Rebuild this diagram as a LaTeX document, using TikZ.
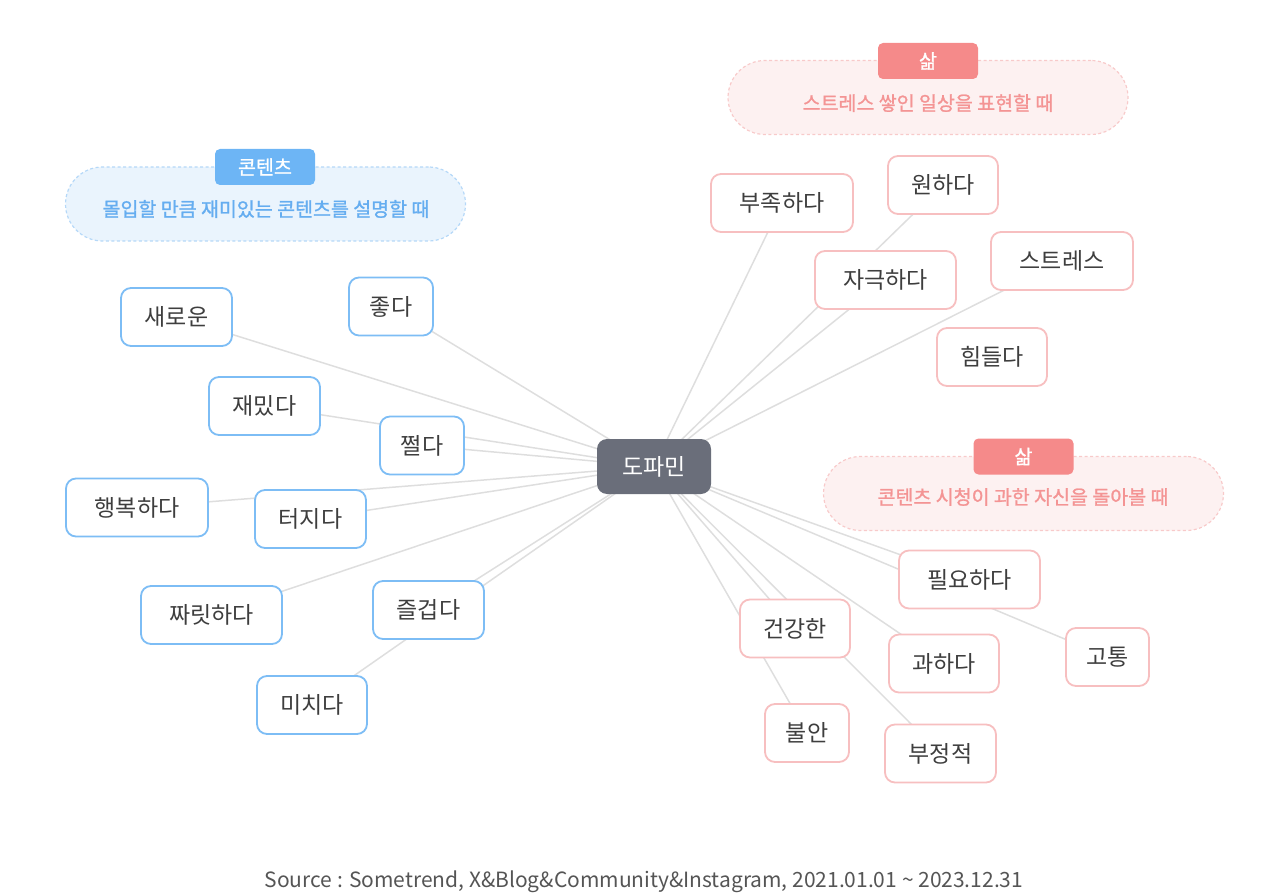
\documentclass[tikz,border=0pt]{standalone}
\usepackage{fontspec}
\setmainfont{Noto Sans CJK KR}
\newfontfamily\semifont{Noto Sans CJK KR}[FakeBold=1.2]
\usetikzlibrary{backgrounds}
\definecolor{bluebd}{HTML}{7DBDF5}
\definecolor{redbd}{HTML}{F7BFC0}
\definecolor{linec}{HTML}{DEDEDE}
\definecolor{centerc}{HTML}{6A6E7A}
\definecolor{txt}{HTML}{3E3E3E}
\definecolor{bluetag}{HTML}{6DB5F5}
\definecolor{bluefill}{HTML}{EAF4FD}
\definecolor{bluecap}{HTML}{65ADF0}
\definecolor{bluedash}{HTML}{B5D8F8}
\definecolor{redtag}{HTML}{F58A8A}
\definecolor{redfill}{HTML}{FDF1F1}
\definecolor{redcap}{HTML}{F49494}
\definecolor{reddash}{HTML}{F8CACA}
\definecolor{srcc}{HTML}{555555}
\tikzset{
  wordbox/.style={draw, line width=1.8pt, rounded corners=10pt, fill=white, text=txt,
    font=\fontsize{23}{26}\selectfont, inner sep=0pt, minimum height=58pt},
  bw/.style={wordbox, draw=bluebd, minimum width=#1},
  rw/.style={wordbox, draw=redbd, minimum width=#1},
  hub/.style={fill=centerc, rounded corners=10pt, text=white, inner sep=0pt,
    font=\fontsize{23}{26}\selectfont, minimum width=114pt, minimum height=55pt},
  link/.style={draw=linec, line width=1.5pt},
  pillbox/.style={rounded corners=37pt, line width=1.2pt, dash pattern=on 3pt off 2.5pt,
    minimum width=400pt, minimum height=74pt, inner sep=0pt},
  bluepill/.style={pillbox, draw=bluedash, fill=bluefill},
  redpill/.style={pillbox, draw=reddash, fill=redfill},
  tagbox/.style={rounded corners=5pt, text=white, inner sep=0pt, minimum width=100pt,
    minimum height=36pt, font=\semifont\fontsize{19.5}{22}\selectfont},
  captext/.style={font=\semifont\fontsize{19.5}{22}\selectfont, inner sep=0pt},
}
\begin{document}
\begin{tikzpicture}[x=1pt,y=-1pt]
\useasboundingbox (0,0) rectangle (1280,896);

% captions
\node[bluepill] (capL) at (265.5,204) {};
\node[captext, text=bluecap] (capLt) at (266,209) {몰입할 만큼 재미있는 콘텐츠를 설명할 때};
\node[tagbox, fill=bluetag] (tagL) at (265,167) {콘텐츠};

\node[redpill] (capR1) at (928,97.5) {};
\node[captext, text=redcap] (capR1t) at (928,103) {스트레스 쌓인 일상을 표현할 때};
\node[tagbox, fill=redtag] (tagR1) at (928,61) {삶};

\node[redpill] (capR2) at (1023.5,493.5) {};
\node[captext, text=redcap] (capR2t) at (1023,497) {콘텐츠 시청이 과한 자신을 돌아볼 때};
\node[tagbox, fill=redtag] (tagR2) at (1023.5,456.5) {삶};

% hub
\node[hub] (dopa) at (654,466.5) {도파민};

% left (blue) words
\node[bw=111] (saero) at (176.5,317) {새로운};
\node[bw=84] (jota) at (391,306.5) {좋다};
\node[bw=111] (jaemit) at (264.5,406) {재밌다};
\node[bw=84] (jjeol) at (422,445.5) {쩔다};
\node[bw=142] (haeng) at (137,507.5) {행복하다};
\node[bw=111] (teoji) at (310.5,519) {터지다};
\node[bw=141] (jjarit) at (211.5,615) {짜릿하다};
\node[bw=111] (jeulgeop) at (428.5,610) {즐겁다};
\node[bw=110] (michi) at (312,705) {미치다};

% right (red) words
\node[rw=142] (bujok) at (782,203) {부족하다};
\node[rw=110] (won) at (943,185) {원하다};
\node[rw=141] (jageuk) at (885.5,280) {자극하다};
\node[rw=142] (stress) at (1062,261) {스트레스};
\node[rw=110] (himdeul) at (992,357) {힘들다};
\node[rw=141] (pilyo) at (969.5,579.5) {필요하다};
\node[rw=110] (geongang) at (795,628.5) {건강한};
\node[rw=110] (gwa) at (944,663.5) {과하다};
\node[rw=83] (gotong) at (1107.5,657) {고통};
\node[rw=84] (buran) at (807,733) {불안};
\node[rw=111] (bujeong) at (940.5,753.5) {부정적};

% links
\begin{scope}[on background layer]
\foreach \t in {saero,jota,jaemit,jjeol,haeng,teoji,jjarit,jeulgeop,michi,
  bujok,won,jageuk,stress,pilyo,geongang,gwa,gotong,buran,bujeong}
  \draw[link] (dopa.center) -- (\t.center);
\end{scope}

% source
\node[font=\fontsize{21}{24}\selectfont, text=srcc, inner sep=0pt] (src) at (644,882)
  {Source : Sometrend, X\&Blog\&Community\&Instagram, 2021.01.01 \textasciitilde{} 2023.12.31};
\end{tikzpicture}
\end{document}
